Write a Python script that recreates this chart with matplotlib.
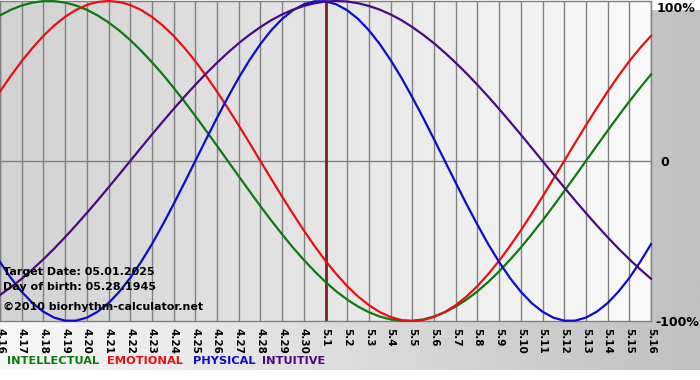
import numpy as np
import matplotlib
matplotlib.use('Agg')
import matplotlib.pyplot as plt
from matplotlib.colors import LinearSegmentedColormap

# day labels 04.16 - 05.16
day_labels = ['4.%d' % d for d in range(16, 31)] + ['5.%d' % d for d in range(1, 17)]
days = list(range(len(day_labels)))
# curve samples every half day
half_days = [i / 2 for i in range(2 * len(day_labels) - 1)]

# values (-1 .. 1), one per half day from 4.16 to 5.16
physical = [-0.631, -0.731, -0.817, -0.888, -0.942, -0.979, -0.998, -0.998, -0.979, -0.942,
            -0.888, -0.817, -0.731, -0.631, -0.520, -0.398, -0.270, -0.136, 0.000, 0.136,
            0.270, 0.398, 0.520, 0.631, 0.731, 0.817, 0.888, 0.942, 0.979, 0.998,
            0.998, 0.979, 0.942, 0.888, 0.817, 0.731, 0.631, 0.520, 0.398, 0.270,
            0.136, 0.000, -0.136, -0.270, -0.398, -0.520, -0.631, -0.731, -0.817, -0.888,
            -0.942, -0.979, -0.998, -0.998, -0.979, -0.942, -0.888, -0.817, -0.731, -0.631,
            -0.520]
emotional = [0.434, 0.532, 0.624, 0.707, 0.782, 0.847, 0.901, 0.944, 0.975, 0.994,
             1.000, 0.994, 0.975, 0.944, 0.901, 0.847, 0.782, 0.707, 0.624, 0.532,
             0.434, 0.330, 0.223, 0.112, 0.000, -0.112, -0.223, -0.330, -0.434, -0.532,
             -0.624, -0.707, -0.782, -0.847, -0.901, -0.944, -0.975, -0.994, -1.000, -0.994,
             -0.975, -0.944, -0.901, -0.847, -0.782, -0.707, -0.624, -0.532, -0.434, -0.330,
             -0.223, -0.112, 0.000, 0.112, 0.223, 0.330, 0.434, 0.532, 0.624, 0.707,
             0.782]
intellectual = [0.910, 0.945, 0.972, 0.990, 0.999, 0.999, 0.990, 0.972, 0.945, 0.910,
                0.866, 0.815, 0.756, 0.690, 0.618, 0.541, 0.458, 0.372, 0.282, 0.189,
                0.095, 0.000, -0.095, -0.189, -0.282, -0.372, -0.458, -0.541, -0.618, -0.690,
                -0.756, -0.815, -0.866, -0.910, -0.945, -0.972, -0.990, -0.999, -0.999, -0.990,
                -0.972, -0.945, -0.910, -0.866, -0.815, -0.756, -0.690, -0.618, -0.541, -0.458,
                -0.372, -0.282, -0.189, -0.095, 0.000, 0.095, 0.189, 0.282, 0.372, 0.458,
                0.541]
intuitive = [-0.837, -0.789, -0.736, -0.677, -0.614, -0.547, -0.476, -0.402, -0.325, -0.246,
             -0.165, -0.083, 0.000, 0.083, 0.165, 0.246, 0.325, 0.402, 0.476, 0.547,
             0.614, 0.677, 0.736, 0.789, 0.837, 0.880, 0.916, 0.946, 0.969, 0.986,
             0.997, 1.000, 0.997, 0.986, 0.969, 0.946, 0.916, 0.880, 0.837, 0.789,
             0.736, 0.677, 0.614, 0.547, 0.476, 0.402, 0.325, 0.246, 0.165, 0.083,
             0.000, -0.083, -0.165, -0.246, -0.325, -0.402, -0.476, -0.547, -0.614, -0.677,
             -0.736]
target_day = 15  # 5.1

series = [
    ('INTELLECTUAL', intellectual, '#0d7a0d'),
    ('EMOTIONAL', emotional, '#e81010'),
    ('PHYSICAL', physical, '#0c0ccc'),
    ('INTUITIVE', intuitive, '#4a0a80'),
]

W, H = 700, 380
fig = plt.figure(figsize=(W / 100, H / 100), dpi=100)
fig.patch.set_facecolor('white')

# outer gradient background (white -> gray)
bg = fig.add_axes([0, 10 / H, 1, 360 / H])
bg.imshow(np.linspace(0, 1, 256)[None, :], aspect='auto', extent=[0, 1, 0, 1],
          cmap=LinearSegmentedColormap.from_list('o', ['#f8f8f8', '#c0c0c0']))
bg.axis('off')

# plot area
ax = fig.add_axes([0, 59 / H, 651 / W, 320 / H])
ax.imshow(np.linspace(0, 1, 256)[None, :], aspect='auto', extent=[0, 30, -1, 1],
          cmap=LinearSegmentedColormap.from_list('p', ['#d2d2d2', '#fafafa']), zorder=0)
ax.set_xlim(0, 30)
ax.set_ylim(-1, 1)

for d in days:
    ax.axvline(d, color='#808080', lw=1, zorder=1)
ax.axhline(0, color='#808080', lw=1, zorder=1)
ax.axvline(target_day, color='#7e2020', lw=2, zorder=2)

for name, vals, col in series:
    ax.plot(half_days, vals, color=col, lw=1.6, zorder=3, clip_on=False)

for s in ax.spines.values():
    s.set_color('#808080')
    s.set_linewidth(1)

ax.set_yticks([])
ax.set_xticks(days)
ax.set_xticklabels(day_labels, rotation=270, fontsize=7.5, fontweight='bold',
                   family=['Liberation Sans Narrow', 'DejaVu Sans'])
ax.tick_params(axis='x', length=0, pad=5)

# right side percent labels
def fig_text(x, y, s, **kw):
    fig.text(x / W, 1 - y / H, s, va='center', fontweight='bold', **kw)

fig_text(657, 8, '100%', fontsize=9)
fig_text(660, 162, '0', fontsize=9)
fig_text(655, 322, '-100%', fontsize=9)

fig_text(3, 272, 'Target Date: 05.01.2025', fontsize=8)
fig_text(3, 287, 'Day of birth: 05.28.1945', fontsize=8)
fig_text(3, 307, '\u00a92010 biorhythm-calculator.net', fontsize=8)

legend_x = [7, 107, 193, 262]
for (name, vals, col), x in zip(series, legend_x):
    fig_text(x, 361, name, fontsize=8.2, color=col)

fig.savefig('out.png', dpi=100)
